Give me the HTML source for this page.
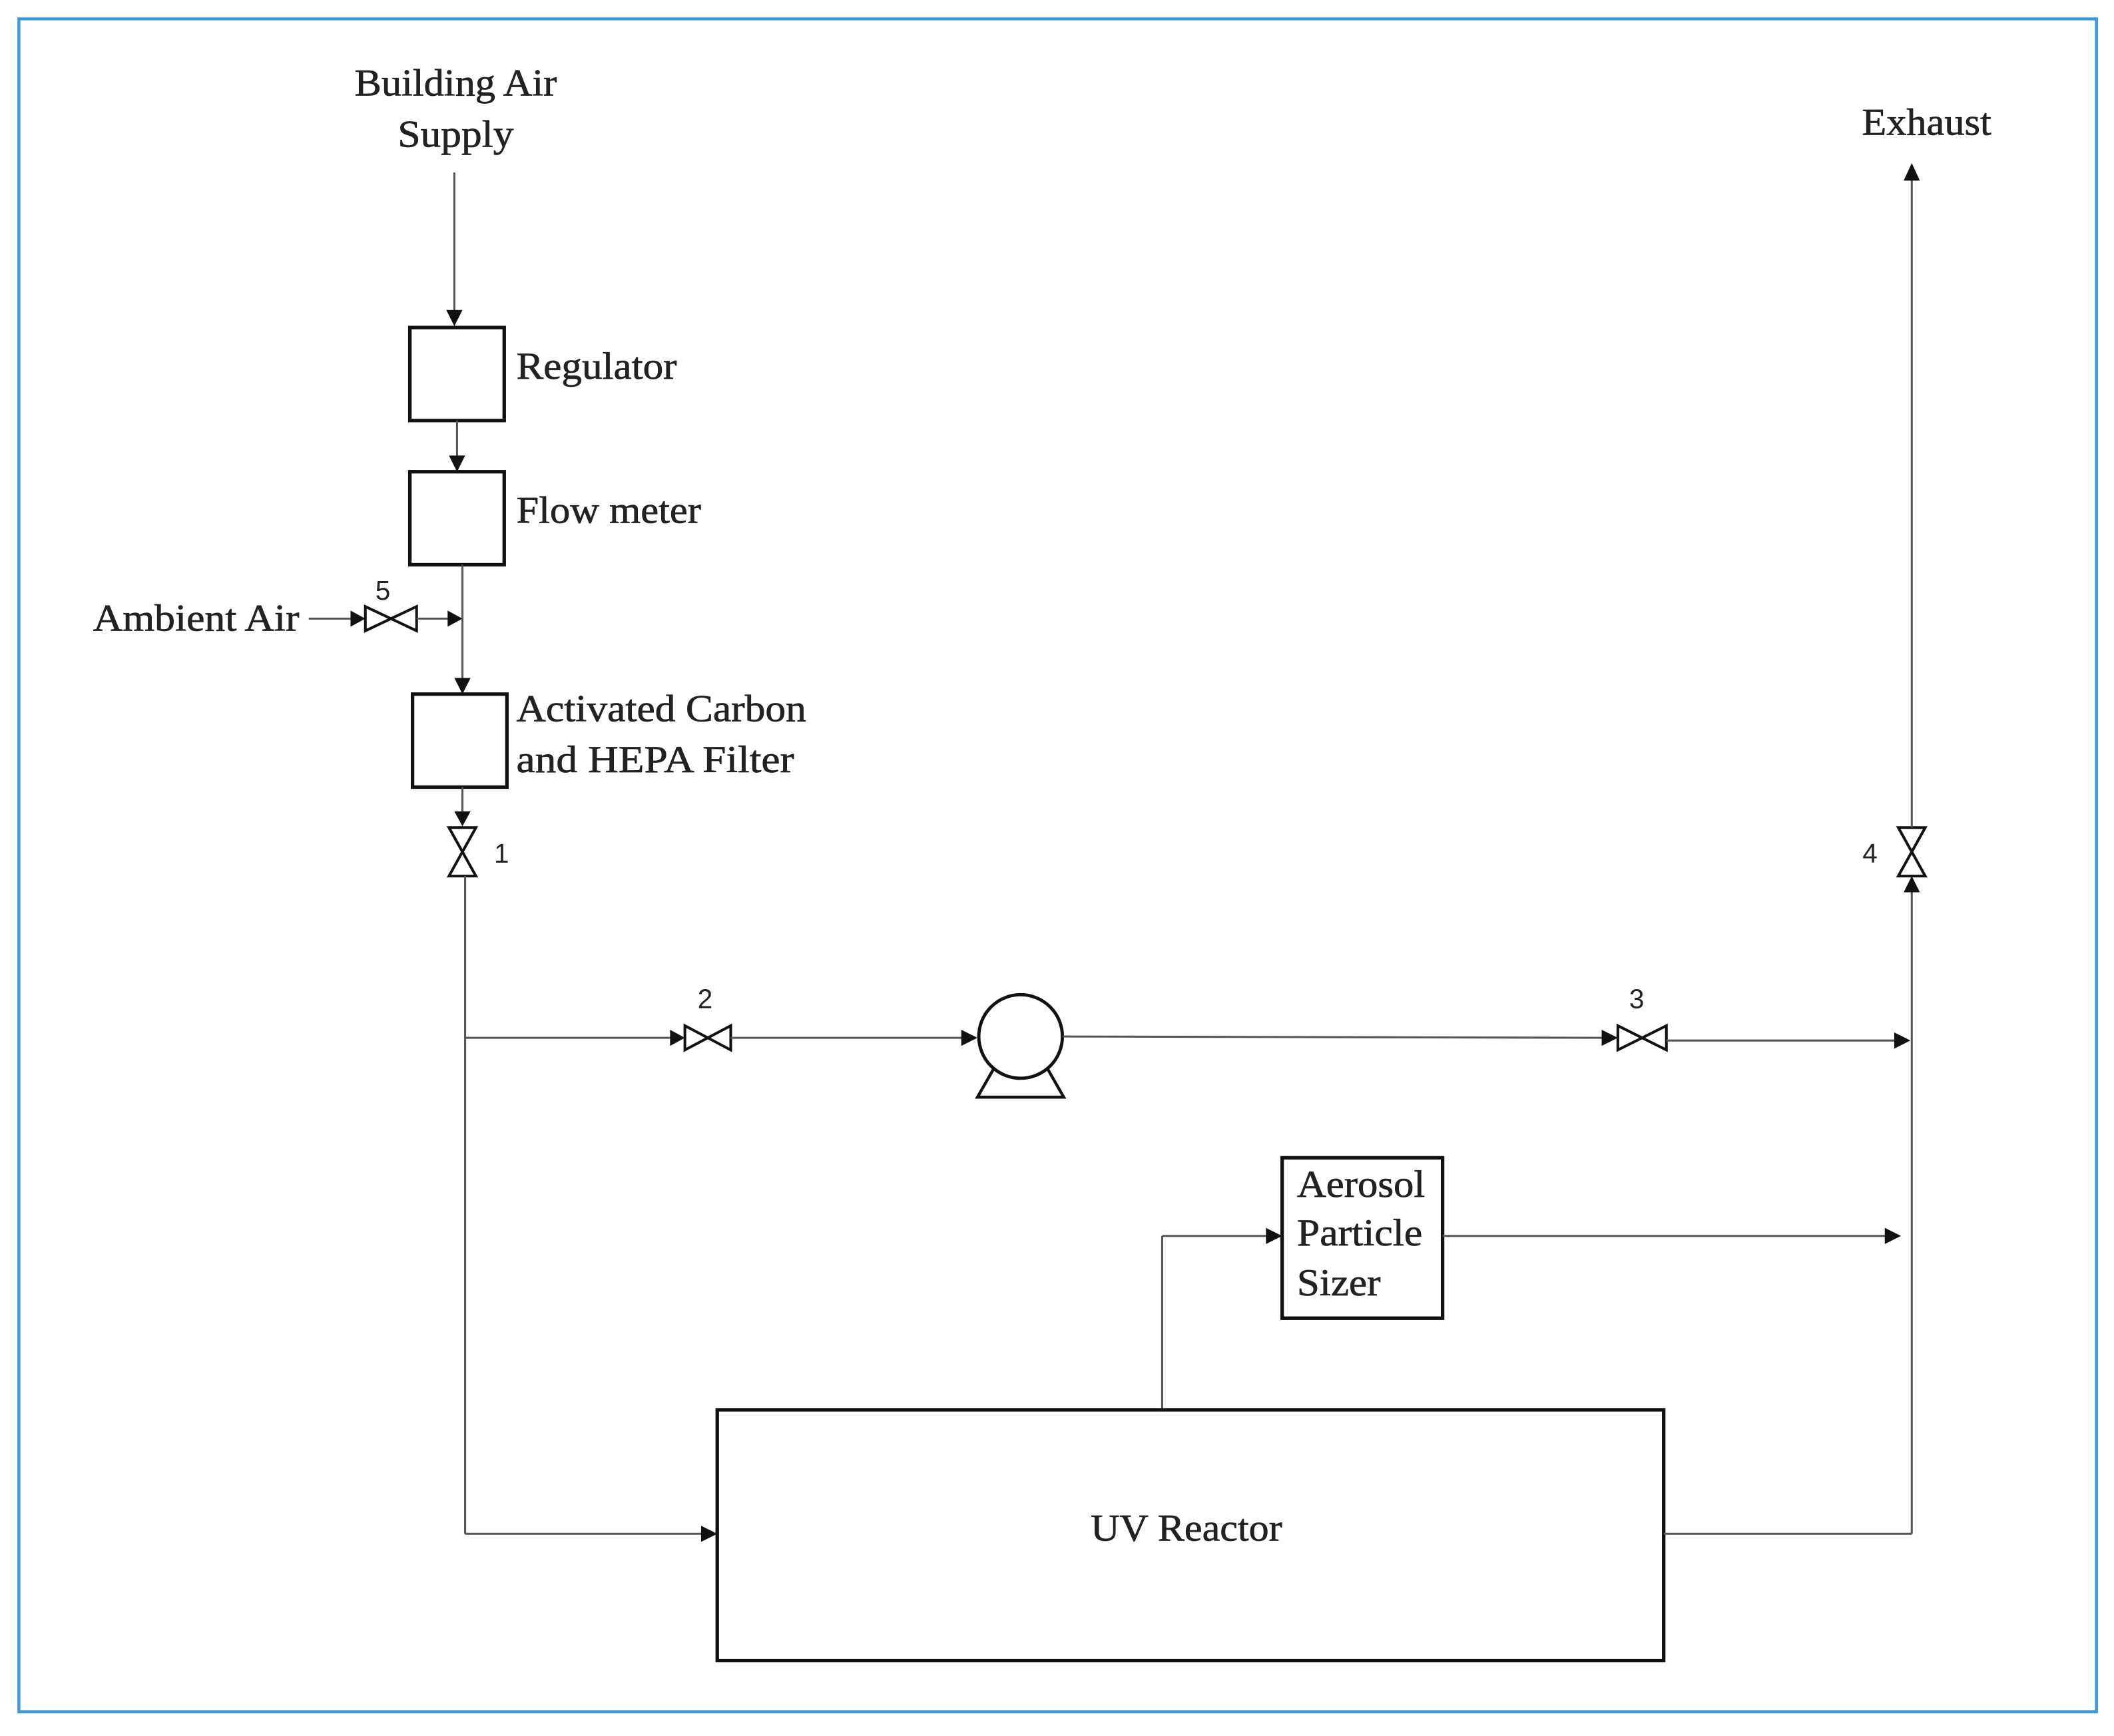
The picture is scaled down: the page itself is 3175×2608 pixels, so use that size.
<!DOCTYPE html>
<html><head><meta charset="utf-8"><style>
html,body{margin:0;padding:0;background:#fff;}
svg{display:block;}
.t{font-family:"Liberation Serif",serif;font-size:28px;fill:#222;stroke:#222;stroke-width:0.35;}
.n{font-family:"Liberation Sans",sans-serif;font-size:20px;fill:#222;}
.l{stroke:#555;stroke-width:1.5;fill:none;}
.b{stroke:#111;stroke-width:2.6;fill:#fff;}
.v{stroke:#111;stroke-width:2;fill:#fff;}
.a{fill:#111;}
</style></head><body>
<svg width="3175" height="2608" viewBox="0 0 1568 1288" preserveAspectRatio="none" xmlns="http://www.w3.org/2000/svg">
<rect x="0" y="0" width="1568" height="1288" fill="#fff"/>
<rect x="14" y="14" width="1541" height="1256" fill="none" stroke="#3a9ad9" stroke-width="2.2"/>

<text class="t" x="263" y="71" textLength="150" lengthAdjust="spacingAndGlyphs">Building Air</text>
<text class="t" x="295" y="109" textLength="86" lengthAdjust="spacingAndGlyphs">Supply</text>
<line class="l" x1="337" y1="128" x2="337" y2="232"/>
<polygon class="a" points="331,230 343,230 337,242"/>

<rect class="b" x="304" y="243" width="70" height="69"/>
<text class="t" x="383" y="281" textLength="119" lengthAdjust="spacingAndGlyphs">Regulator</text>
<line class="l" x1="339" y1="312" x2="339" y2="340"/>
<polygon class="a" points="333,338 345,338 339,350"/>

<rect class="b" x="304" y="350" width="70" height="69"/>
<text class="t" x="383" y="388" textLength="137" lengthAdjust="spacingAndGlyphs">Flow meter</text>
<line class="l" x1="343" y1="419" x2="343" y2="505"/>
<polygon class="a" points="337,503 349,503 343,515"/>

<text class="t" x="69" y="468" textLength="153" lengthAdjust="spacingAndGlyphs">Ambient Air</text>
<line class="l" x1="229" y1="459" x2="262" y2="459"/>
<polygon class="a" points="260,453 260,465 271,459"/>
<polygon class="v" points="271,450 290,459 271,468"/>
<polygon class="v" points="309,450 290,459 309,468"/>
<text class="n" x="284" y="445" text-anchor="middle">5</text>
<line class="l" x1="309" y1="459" x2="334" y2="459"/>
<polygon class="a" points="332,453 332,465 343,459"/>

<rect class="b" x="306" y="515" width="70" height="69"/>
<text class="t" x="383" y="535" textLength="215" lengthAdjust="spacingAndGlyphs">Activated Carbon</text>
<text class="t" x="383" y="573" textLength="206" lengthAdjust="spacingAndGlyphs">and HEPA Filter</text>
<line class="l" x1="343" y1="584" x2="343" y2="604"/>
<polygon class="a" points="337,602 349,602 343,613"/>
<polygon class="v" points="333,614 353,614 343,632"/>
<polygon class="v" points="333,650 353,650 343,632"/>
<text class="n" x="372" y="640" text-anchor="middle">1</text>

<line class="l" x1="345" y1="650" x2="345" y2="1138"/>
<line class="l" x1="345" y1="1138" x2="522" y2="1138"/>
<polygon class="a" points="520,1132 520,1144 532,1138"/>

<line class="l" x1="345" y1="770" x2="499" y2="770"/>
<polygon class="a" points="497,764 497,776 508,770"/>
<polygon class="v" points="508,761 525,770 508,779"/>
<polygon class="v" points="542,761 525,770 542,779"/>
<text class="n" x="523" y="748" text-anchor="middle">2</text>
<line class="l" x1="542" y1="770" x2="715" y2="770"/>
<polygon class="a" points="713,764 713,776 725,770"/>
<path d="M737,793 L725,814 L789,814 L777,793" stroke="#111" stroke-width="2.2" fill="#fff"/>
<circle cx="757" cy="769" r="31" stroke="#111" stroke-width="2.4" fill="#fff"/>
<line class="l" x1="788" y1="769" x2="1190" y2="770"/>
<polygon class="a" points="1188,764 1188,776 1200,770"/>
<polygon class="v" points="1200,761 1218,770 1200,779"/>
<polygon class="v" points="1236,761 1218,770 1236,779"/>
<text class="n" x="1214" y="748" text-anchor="middle">3</text>
<line class="l" x1="1236" y1="772" x2="1406" y2="772"/>
<polygon class="a" points="1405,766 1405,778 1417,772"/>

<line class="l" x1="1418" y1="1138" x2="1418" y2="660"/>
<polygon class="a" points="1412,662 1424,662 1418,650"/>
<polygon class="v" points="1408,614 1428,614 1418,632"/>
<polygon class="v" points="1408,650 1428,650 1418,632"/>
<text class="n" x="1387" y="640" text-anchor="middle">4</text>
<line class="l" x1="1418" y1="614" x2="1418" y2="132"/>
<polygon class="a" points="1412,134 1424,134 1418,121"/>
<text class="t" x="1381" y="100" textLength="96" lengthAdjust="spacingAndGlyphs">Exhaust</text>

<line class="l" x1="862" y1="1046" x2="862" y2="917"/>
<line class="l" x1="862" y1="917" x2="940" y2="917"/>
<polygon class="a" points="939,911 939,923 951,917"/>
<rect class="b" x="951" y="859" width="119" height="119"/>
<text class="t" x="962" y="888" textLength="95" lengthAdjust="spacingAndGlyphs">Aerosol</text>
<text class="t" x="962" y="924" textLength="93" lengthAdjust="spacingAndGlyphs">Particle</text>
<text class="t" x="962" y="961" textLength="62" lengthAdjust="spacingAndGlyphs">Sizer</text>
<line class="l" x1="1070" y1="917" x2="1400" y2="917"/>
<polygon class="a" points="1398,911 1398,923 1410,917"/>

<rect class="b" x="532" y="1046" width="702" height="186"/>
<text class="t" x="809" y="1143" textLength="142" lengthAdjust="spacingAndGlyphs">UV Reactor</text>
<line class="l" x1="1234" y1="1138" x2="1418" y2="1138"/>
</svg>
</body></html>
